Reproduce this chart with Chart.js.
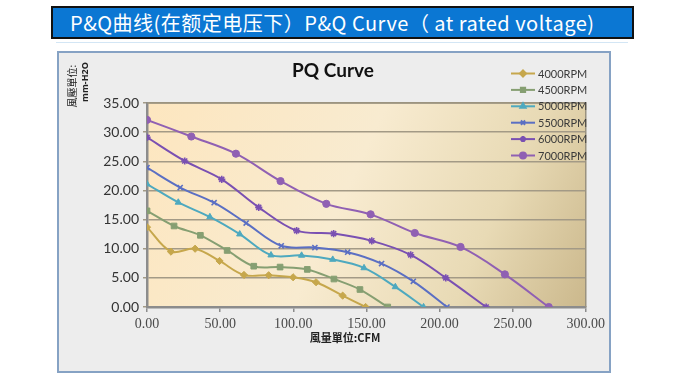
<!DOCTYPE html>
<html>
<head>
<meta charset="utf-8">
<script src="https://cdn.jsdelivr.net/npm/chart.js@4/dist/chart.umd.min.js"></script>
<style>
  body { margin: 0; width: 680px; height: 380px; background: #fff; position: relative; overflow: hidden; }
  #header {
    position: absolute; left: 51px; top: 6px; width: 562px; height: 29px;
    background: #0b77d3; border: 2px solid #111;
    color: #fff; font: 20px "Noto Sans CJK SC", sans-serif; line-height: 29px;
    letter-spacing: 0.5px;
    padding-left: 17px; box-sizing: content-box; white-space: nowrap;
  }
  #rule { position: absolute; left: 56px; top: 42px; width: 572px; height: 1px; background: #d3e6f5; }
  #box {
    position: absolute; left: 57px; top: 51px; width: 550px; height: 318px;
    border: 2px solid #86a2c4; background: #ededed;
  }
  #box canvas { display: block; }
</style>
</head>
<body>
<div id="header">P&amp;Q曲线(在额定电压下）P&amp;Q Curve（ at rated voltage)</div>
<div id="rule"></div>
<div id="box"><canvas id="pq" width="550" height="318"></canvas></div>
<script>
// Curvas PQ por velocidad (x = caudal CFM, y = presión mm-H2O)
const series = ['4000RPM', '4500RPM', '5000RPM', '5500RPM', '6000RPM', '7000RPM'];

const q4000 = [0, 16.4, 32.9, 49.6, 66.3, 83.2, 99.9, 115.6, 133.8, 149.5];
const p4000 = [13.7, 9.5, 10.0, 7.9, 5.5, 5.45, 5.1, 4.25, 1.95, 0];

const q4500 = [0, 18.5, 36.5, 54.8, 73.0, 91.0, 109.6, 127.8, 145.6, 164.6];
const p4500 = [16.5, 13.9, 12.3, 9.7, 7.0, 6.85, 6.45, 4.8, 3.0, 0];

const q5000 = [0, 21.4, 43.0, 63.4, 84.8, 105.7, 127.0, 148.4, 169.8, 189.1];
const p5000 = [21.1, 17.95, 15.45, 12.5, 8.9, 8.85, 8.15, 6.7, 3.45, 0];

const q5500 = [0, 22.7, 45.9, 67.8, 91.8, 114.8, 137.2, 160.4, 182.1, 205.1];
const p5500 = [23.9, 20.5, 17.9, 14.4, 10.5, 10.2, 9.4, 7.45, 4.4, 0];

const q6000 = [0, 25.8, 51.1, 76.4, 102.3, 127.6, 153.7, 180.3, 204.3, 231.9];
const p6000 = [29.1, 25.05, 21.9, 17.1, 13.1, 12.6, 11.35, 8.95, 5.0, 0];

const q7000 = [0, 30.3, 60.8, 91.3, 122.6, 152.9, 183.1, 214.4, 244.7, 274.7];
const p7000 = [32.1, 29.25, 26.3, 21.6, 17.7, 15.9, 12.7, 10.3, 5.6, 0];

const colors = ['#c6a74c', '#869f72', '#4ea9bf', '#5b6fc3', '#7a50b2', '#9060b3'];
const markers = ['rectRot', 'rect', 'triangle', 'crossRot', 'star', 'circle'];

const qs = [q4000, q4500, q5000, q5500, q6000, q7000];
const ps = [p4000, p4500, p5000, p5500, p6000, p7000];

const datasets = series.map((name, i) => ({
  label: name,
  data: qs[i].map((q, j) => ({ x: q, y: ps[i][j] })),
  borderColor: colors[i],
  backgroundColor: colors[i],
  borderWidth: 2,
  pointStyle: markers[i],
  pointRadius: markers[i] === 'rect' ? 4 : 3.6,
  pointBorderWidth: (markers[i] === 'crossRot' || markers[i] === 'star') ? 1.6 : 1,
  showLine: true,
  tension: 0.35
}));

// Fondo degradado y marco del área de trazado
const plotBackground = {
  id: 'plotBackground',
  beforeDraw(chart) {
    const { ctx, chartArea: a } = chart;
    const g = ctx.createLinearGradient(a.left, a.top, a.right, a.bottom);
    g.addColorStop(0, '#fde6bf');
    g.addColorStop(0.45, '#f8ebd0');
    g.addColorStop(0.75, '#e8dab5');
    g.addColorStop(1, '#cbb88c');
    ctx.save();
    ctx.fillStyle = g;
    ctx.fillRect(a.left, a.top, a.right - a.left, a.bottom - a.top);
    ctx.restore();
  },
  afterDatasetsDraw(chart) {
    const { ctx, chartArea: a } = chart;
    ctx.save();
    ctx.strokeStyle = '#9a927f';
    ctx.lineWidth = 1.5;
    ctx.beginPath();
    ctx.moveTo(a.left, a.top);
    ctx.lineTo(a.right, a.top);
    ctx.lineTo(a.right, a.bottom);
    ctx.stroke();
    ctx.restore();
  }
};

// Título, títulos de ejes y leyenda
const labelsPlugin = {
  id: 'labelsPlugin',
  afterDraw(chart) {
    const { ctx } = chart;
    ctx.save();
    ctx.fillStyle = '#111';
    ctx.font = 'bold 19px Lato, sans-serif';
    ctx.textAlign = 'center';
    ctx.textBaseline = 'middle';
    ctx.fillText('PQ Curve', 274, 18);

    ctx.font = 'bold 11px "Noto Sans CJK TC", sans-serif';
    ctx.fillStyle = '#222';
    ctx.fillText('風量單位:CFM', 286, 285);

    ctx.translate(13, 33);
    ctx.rotate(-Math.PI / 2);
    ctx.font = '10px "Noto Sans CJK TC", sans-serif';
    ctx.fillText('風壓單位:', 0, 0);
    ctx.font = 'bold 9px "Open Sans", sans-serif';
    ctx.fillText('mm-H2O', 4, 13);
    ctx.restore();

    ctx.save();
    chart.data.datasets.forEach((ds, i) => {
      const y = 20.5 + i * 16.4;
      ctx.strokeStyle = ds.borderColor;
      ctx.lineWidth = 2;
      ctx.beginPath();
      ctx.moveTo(452, y);
      ctx.lineTo(476, y);
      ctx.stroke();
      ctx.fillStyle = ds.backgroundColor;
      Chart.helpers.drawPoint(ctx, {
        pointStyle: ds.pointStyle, radius: 3, rotation: 0, borderWidth: 1.4
      }, 464, y);
      ctx.fillStyle = '#3a3a3a';
      ctx.font = '11px Lato, sans-serif';
      ctx.textAlign = 'left';
      ctx.textBaseline = 'middle';
      ctx.fillText(ds.label, 479, y + 0.5);
    });
    ctx.restore();
  }
};

const ctx = document.getElementById('pq').getContext('2d');

new Chart(ctx, {
  type: 'scatter',
  data: { datasets },
  plugins: [plotBackground, labelsPlugin],
  options: {
    responsive: false,
    animation: false,
    layout: { padding: { top: 50, right: 22, left: 0, bottom: 0 } },
    plugins: { legend: { display: false }, title: { display: false }, tooltip: { enabled: false } },
    scales: {
      x: {
        type: 'linear', min: 0, max: 300,
        afterFit: (s) => { s.height = 64; },
        ticks: {
          stepSize: 50, padding: 4, color: '#4a4a4a',
          font: { family: '"Liberation Serif", serif', size: 14 },
          callback: (v) => v.toFixed(2)
        },
        grid: { drawOnChartArea: false, tickLength: 5, color: '#8c8c8c', lineWidth: 1.5 },
        border: { color: '#8c8c8c', width: 2.5 }
      },
      y: {
        min: 0, max: 35,
        afterFit: (s) => { s.width = 88; },
        ticks: {
          stepSize: 5, padding: 4, color: '#333',
          font: { family: 'Lato, sans-serif', size: 14 },
          callback: (v) => v.toFixed(2)
        },
        grid: { color: '#a39a86', lineWidth: 1.5, tickLength: 4 },
        border: { color: '#8c8c8c', width: 2.5 }
      }
    }
  }
});
</script>
</body>
</html>
